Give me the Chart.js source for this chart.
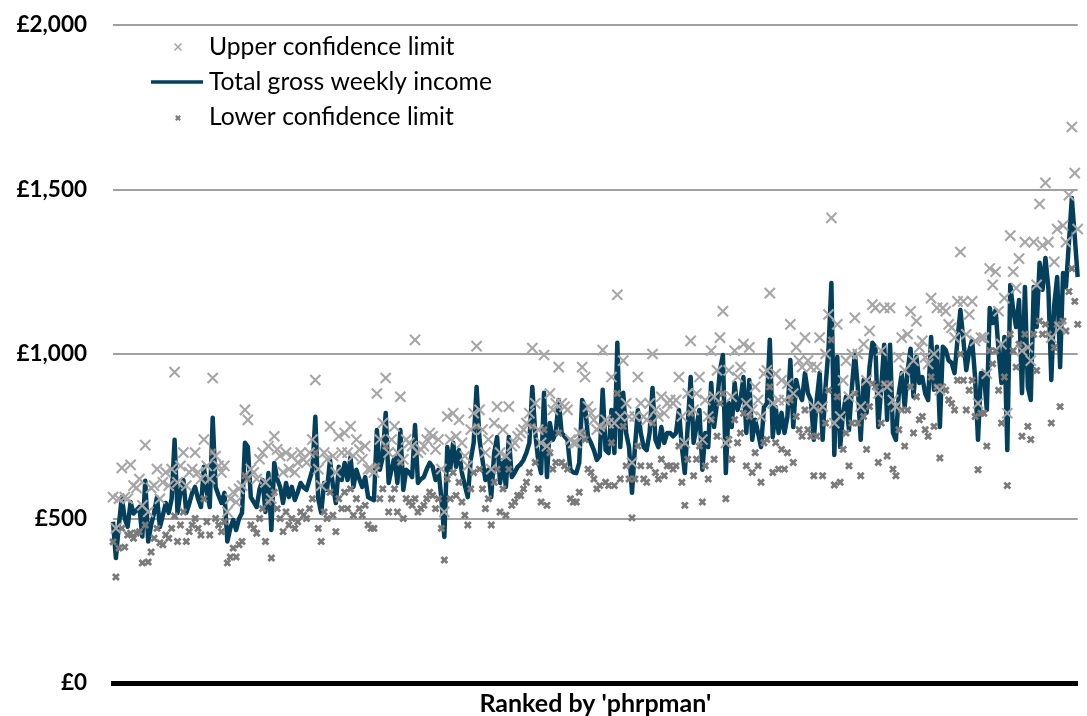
<!DOCTYPE html>
<html>
<head>
<meta charset="utf-8">
<script src="https://cdn.jsdelivr.net/npm/chart.js@4.4.1/dist/chart.umd.min.js"></script>
<style>
  html, body { margin: 0; padding: 0; background: #fff; overflow: hidden; }
  #wrap { width: 1087px; height: 716px; }
</style>
</head>
<body>
<div id="wrap"><canvas id="incomeChart" width="1087" height="716"></canvas></div>
<script>
// total gross weekly income, ranked
const income = [
  490,380,480,565,500,475,550,515,525,535,
  445,615,430,480,517,565,474,510,547,517,
  560,739,517,580,617,517,545,578,596,560,
  535,657,580,535,806,596,570,547,578,430,
  470,496,465,500,517,730,717,565,550,535,
  590,617,520,638,465,669,620,596,547,608,
  565,596,556,580,608,595,587,617,648,809,
  560,517,608,587,678,600,547,657,617,669,
  617,687,596,648,620,596,626,565,560,556,
  769,648,687,821,608,650,687,608,769,587,
  648,640,626,784,608,620,626,650,669,657,
  617,648,560,444,717,648,730,657,708,638,
  600,565,678,730,900,739,678,617,648,565,
  700,748,608,678,596,748,626,640,657,665,
  678,700,730,900,760,678,638,882,626,790,
  739,760,860,760,750,739,648,640,638,669,
  860,839,748,730,708,678,690,891,708,699,
  830,699,1034,717,882,760,717,578,717,830,
  760,717,708,760,897,739,717,778,730,760,
  760,750,760,830,717,638,780,930,730,780,
  830,648,760,717,912,778,851,951,997,638,
  851,778,912,830,860,930,760,921,739,800,
  760,717,839,850,1043,748,839,760,821,760,
  809,982,778,921,880,860,942,881,860,739,
  860,942,739,900,1012,1216,693,991,717,821,
  870,769,900,1003,900,739,921,821,960,1034,
  1022,778,900,1028,800,1028,760,739,881,942,
  839,950,1016,870,991,912,930,880,860,1052,
  891,1022,778,1022,1012,980,973,942,1043,1134,
  1043,951,1010,1043,930,739,942,942,830,1140,
  1094,1134,1012,912,1052,708,1210,1134,1082,1164,
  881,1204,900,860,1204,1082,1277,1195,1292,1200,
  921,1150,1234,960,1246,1204,1338,1474,1356,1234
];

const upperLimit = [
  565,470,560,654,565,560,663,600,593,620,
  540,723,520,593,600,650,560,610,640,600,
  650,945,610,660,700,600,640,650,700,640,
  620,740,660,620,927,690,660,640,660,520,
  560,580,550,590,600,830,800,650,640,620,
  680,700,610,720,560,750,710,690,640,700,
  650,690,640,670,700,680,670,700,740,921,
  650,600,700,680,780,690,640,750,700,760,
  700,780,690,740,710,680,720,650,650,640,
  880,740,790,927,700,740,780,700,870,680,
  740,730,720,1043,700,710,720,740,760,750,
  710,740,650,520,810,740,820,750,800,730,
  690,660,770,820,1024,830,770,700,740,650,
  790,840,700,770,690,840,720,730,750,760,
  770,790,820,1018,850,770,730,997,720,880,
  830,850,960,850,840,830,740,730,730,760,
  960,930,840,820,800,770,780,1012,800,790,
  930,790,1180,810,980,850,810,670,810,930,
  850,810,800,850,1000,830,810,870,820,850,
  860,850,860,930,810,730,880,1040,830,880,
  930,740,860,810,1010,870,950,1050,1130,730,
  950,870,1010,930,960,1030,850,1020,830,900,
  860,810,940,950,1185,850,940,860,920,860,
  910,1090,880,1020,980,960,1050,980,960,840,
  960,1050,840,1000,1120,1414,790,1090,810,920,
  980,870,1000,1110,1000,840,1030,920,1070,1150,
  1140,880,1010,1140,900,1140,860,840,990,1050,
  950,1060,1130,980,1100,1020,1040,990,970,1170,
  1000,1140,890,1140,1130,1090,1080,1050,1160,1310,
  1160,1060,1120,1160,1040,850,1050,1050,940,1260,
  1210,1250,1130,1030,1170,820,1360,1250,1200,1290,
  1010,1340,1020,980,1340,1210,1456,1330,1520,1340,
  1050,1280,1380,1080,1390,1340,1483,1690,1550,1380
];

const lowerLimit = [
  429,322,410,470,413,450,455,440,456,460,
  365,480,368,398,440,470,426,420,450,440,
  470,508,430,480,520,430,460,480,500,470,
  450,560,490,450,702,500,480,460,490,365,
  383,410,383,420,430,630,620,480,470,455,
  500,530,430,550,380,580,530,500,460,520,
  480,500,470,490,520,510,500,530,560,700,
  470,430,520,500,580,510,460,560,530,580,
  530,590,510,560,530,510,540,480,470,470,
  660,560,590,720,520,560,590,520,670,500,
  560,550,540,560,520,530,540,560,580,570,
  530,560,470,374,620,560,640,570,610,550,
  510,480,590,640,780,650,590,530,560,480,
  610,650,520,590,510,650,540,550,570,570,
  590,610,640,780,670,590,550,770,540,700,
  650,670,760,670,660,650,560,550,550,580,
  760,740,650,640,620,590,600,780,610,600,
  730,600,880,620,780,660,620,502,620,720,
  660,620,610,660,790,640,620,680,630,660,
  660,650,660,720,610,540,680,820,630,680,
  720,550,660,620,800,680,750,850,880,560,
  740,680,800,730,760,820,660,810,640,700,
  660,610,730,740,900,640,730,650,710,650,
  700,860,670,810,770,750,830,770,750,630,
  750,830,630,790,890,1043,602,870,610,710,
  760,660,790,880,790,630,810,710,840,910,
  900,670,790,910,690,910,650,630,770,830,
  720,830,900,760,870,800,810,770,750,930,
  780,900,684,900,890,860,850,830,920,1000,
  920,830,890,920,810,648,820,820,720,1010,
  970,1010,890,790,930,600,1060,1010,960,1030,
  750,1060,780,740,1060,950,1100,1060,1090,1060,
  790,1020,1090,840,1100,1070,1190,1260,1160,1090
];

const ranks = income.map((v, i) => i + 1);
const yTicks = [0, 500, 1000, 1500, 2000];
const legendLabels = ['Upper confidence limit', 'Total gross weekly income', 'Lower confidence limit'];

const lineColour = '#043f5c';
const upperColour = '#a6a6a6';
const lowerColour = '#7a7a7a';
const fontFamily = 'Lato, "Open Sans", sans-serif';

function drawCross(ctx, x, y, half, width, colour) {
  ctx.save();
  ctx.strokeStyle = colour;
  ctx.lineWidth = width;
  ctx.beginPath();
  ctx.moveTo(x - half, y - half);
  ctx.lineTo(x + half, y + half);
  ctx.moveTo(x - half, y + half);
  ctx.lineTo(x + half, y - half);
  ctx.stroke();
  ctx.restore();
}

// legend sits inside the plot, top left
const insideLegend = {
  id: 'insideLegend',
  afterDraw(chart) {
    const ctx = chart.ctx;
    const textX = 209;
    const rows = [47, 82, 117];
    ctx.save();
    ctx.font = '24.7px ' + fontFamily;
    ctx.fillStyle = '#000';
    ctx.textBaseline = 'middle';
    ctx.textAlign = 'left';
    legendLabels.forEach((label, i) => ctx.fillText(label, textX, rows[i]));
    drawCross(ctx, 178, rows[0], 3.5, 1.6, upperColour);
    ctx.strokeStyle = lineColour;
    ctx.lineWidth = 3.5;
    ctx.beginPath();
    ctx.moveTo(151, rows[1]);
    ctx.lineTo(203, rows[1]);
    ctx.stroke();
    drawCross(ctx, 178, rows[2] + 1, 2.2, 2.2, lowerColour);
    ctx.restore();
  }
};

new Chart(document.getElementById('incomeChart'), {
  data: {
    labels: ranks,
    datasets: [
      {
        type: 'scatter',
        label: legendLabels[0],
        data: upperLimit,
        showLine: false,
        pointStyle: 'crossRot',
        pointRadius: 7.2,
        pointBorderWidth: 2.1,
        borderColor: upperColour,
        backgroundColor: upperColour,
        order: 1
      },
      {
        type: 'line',
        label: legendLabels[1],
        data: income,
        borderColor: lineColour,
        borderWidth: 4.5,
        pointRadius: 0,
        tension: 0,
        borderJoinStyle: 'round',
        order: 3
      },
      {
        type: 'scatter',
        label: legendLabels[2],
        data: lowerLimit,
        showLine: false,
        pointStyle: 'crossRot',
        pointRadius: 4.2,
        pointBorderWidth: 2.8,
        borderColor: lowerColour,
        backgroundColor: lowerColour,
        order: 2
      }
    ]
  },
  options: {
    responsive: false,
    animation: false,
    layout: { padding: { top: 25, left: 0, right: 0, bottom: 0 } },
    plugins: {
      legend: { display: false },
      tooltip: { enabled: false }
    },
    scales: {
      x: {
        type: 'category',
        offset: false,
        grid: { display: false, drawTicks: false },
        border: { display: true, color: '#000', width: 5 },
        ticks: { display: false },
        title: {
          display: true,
          text: "Ranked by 'phrpman'",
          color: '#000',
          font: { family: fontFamily, size: 25, weight: 'bold', lineHeight: 1 },
          padding: { top: 0, bottom: 0 }
        },
        afterFit(scale) {
          scale.height = 33;
          scale.paddingLeft = 0;
          scale.paddingRight = 0;
        }
      },
      y: {
        min: 0,
        max: 2000,
        afterBuildTicks(scale) { scale.ticks = yTicks.map(v => ({ value: v })); },
        grid: {
          drawTicks: false,
          lineWidth: 2,
          color: ctx => (ctx.tick && ctx.tick.value === 0 ? 'rgba(0,0,0,0)' : '#a0a0a0')
        },
        border: { display: false },
        ticks: {
          padding: 26,
          color: '#000',
          font: { family: fontFamily, size: 22.5, weight: 'bold' },
          callback: v => '£' + v.toLocaleString('en-GB')
        },
        afterFit(scale) {
          // labels sit in the margins already, so no extra room above or below
          scale.width = 113;
          scale.paddingTop = 0;
          scale.paddingBottom = 0;
        }
      }
    }
  },
  plugins: [insideLegend]
});
</script>
</body>
</html>
